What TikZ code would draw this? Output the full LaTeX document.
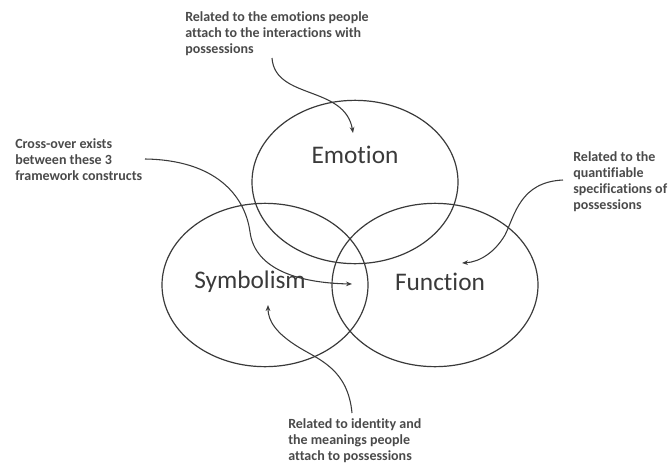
\documentclass[tikz,border=0pt]{standalone}
\usepackage{fontspec}
\setmainfont{Carlito}[Ligatures=NoCommon]
\usetikzlibrary{shapes.geometric,arrows.meta}
\definecolor{inkgray}{HTML}{3A3A3A}
\definecolor{notegray}{HTML}{4A4A4A}
\tikzset{
  ring/.style={ellipse, draw=inkgray, line width=0.9pt, inner sep=0pt,
    minimum width=154.5pt, minimum height=122.5pt},
  word/.style={text=inkgray, font=\fontsize{19}{22}\selectfont},
  note/.style={text=notegray, anchor=north west, inner sep=0pt, align=left,
    font=\bfseries\fontsize{10.5}{12}\selectfont},
  pointer/.style={draw=inkgray, line width=0.8pt, -{Stealth[length=4.5pt,width=3.5pt]}}
}
\begin{document}
\begin{tikzpicture}[x=0.75pt, y=-0.75pt]
      \useasboundingbox (0,0) rectangle (670,464);

      \foreach \n/\x/\y in {emo/355/182, sym/265/285, fun/435/285} {
        \node[ring] (\n) at (\x,\y) {};
      }

      \node[word] (emoword) at (355,155) {Emotion};
      \node[word] (symword) at (250,282) {Symbolism};
      \node[word] (funword) at (440,282) {Function};

      \node[note] (emonote) at (185,11) {Related to the emotions people\\attach to the interactions with\\possessions};
      \node[note] (crossnote) at (15,138) {Cross-over exists\\between these 3\\framework constructs};
      \node[note] (funnote) at (573,151) {Related to the\\quantifiable\\specifications of\\possessions};
      \node[note] (symnote) at (288,418) {Related to identity and\\the meanings people\\attach to possessions};

      \coordinate (emostart) at (272,58);
      \coordinate (emotip) at (353,133);
      \coordinate (crossstart) at (145,159);
      \coordinate (crosstip) at (352,284);
      \coordinate (funstart) at (563,180);
      \coordinate (funtip) at (462,263);
      \coordinate (symstart) at (352,413);
      \coordinate (symtip) at (268,305);

      \draw[pointer] (emostart) .. controls (275,100) and (345,85) .. (emotip);
      \draw[pointer] (crossstart) .. controls (215,160) and (245,195) .. (250,232)
        .. controls (255,270) and (300,283) .. (crosstip);
      \draw[pointer] (funstart) .. controls (520,182) and (515,215) .. (505,235)
        .. controls (495,252) and (480,262) .. (funtip);
      \draw[pointer] (symstart) .. controls (348,370) and (320,360) .. (300,348)
        .. controls (275,333) and (268,320) .. (symtip);
    \end{tikzpicture}
\end{document}
